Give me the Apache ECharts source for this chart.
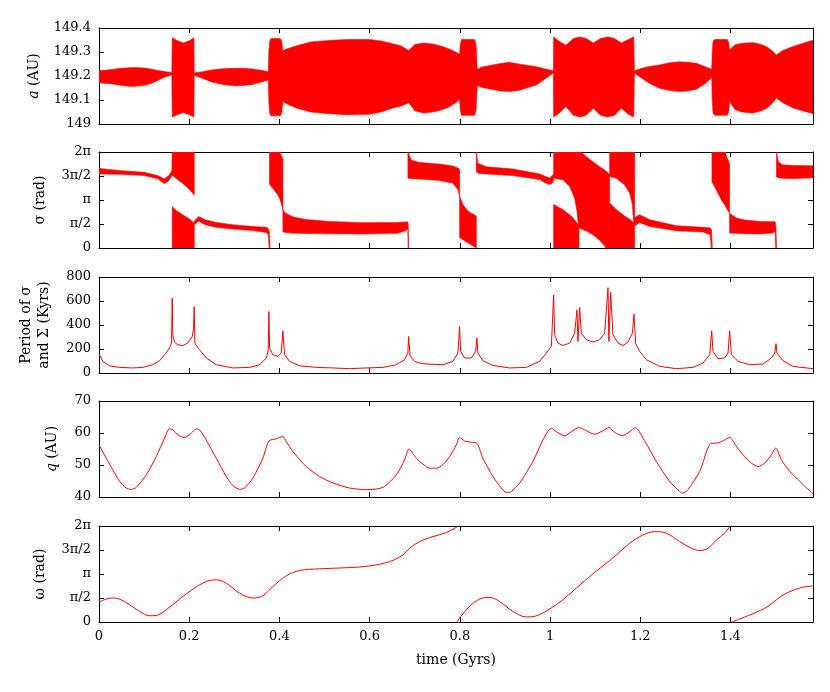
<!DOCTYPE html>
<html><head><meta charset="utf-8">
<script src="https://cdn.jsdelivr.net/npm/echarts@6/dist/echarts.min.js"></script>
<style>html,body{margin:0;padding:0;background:#fff}#c{width:830px;height:692px}</style>
</head><body><div id="c"></div>
<script>
// ---------- DATA (time in Gyrs) ----------
const timeTicks = [0, 0.2, 0.4, 0.6, 0.8, 1.0, 1.2, 1.4];
const aTicks = [149, 149.1, 149.2, 149.3, 149.4];
const periodTicks = [0, 200, 400, 600, 800];
const qTicks = [40, 50, 60, 70];
const angleTicks = [0, Math.PI / 2, Math.PI, 3 * Math.PI / 2, 2 * Math.PI];
const angleTickLabels = ['0', 'π/2', 'π', '3π/2', '2π'];

// semi-major axis envelope: [t, lower, upper] (AU)
const aEnvelope = [
[0,149.172,149.222],[0.03,149.167,149.227],[0.045,149.162,149.231],[0.065,149.157,149.234],[0.08,149.157,149.235],[0.10,149.161,149.233],[0.115,149.169,149.229],
[0.13,149.181,149.223],[0.145,149.195,149.219],[0.1615,149.205,149.214],
[0.1623,149.029,149.359],[0.175,149.040,149.346],[0.187,149.048,149.338],[0.199,149.040,149.346],[0.2105,149.029,149.359],
[0.2111,149.203,149.213],[0.23,149.190,149.218],[0.25,149.175,149.225],[0.275,149.165,149.230],[0.30,149.159,149.232],[0.32,149.160,149.232],
[0.34,149.165,149.229],[0.36,149.175,149.224],[0.3755,149.183,149.218],
[0.3766,149.09,149.30],[0.3785,149.045,149.345],[0.381,149.034,149.356],[0.402,149.034,149.356],[0.405,149.045,149.345],[0.4076,149.094,149.305],
[0.415,149.085,149.312],[0.43,149.073,149.321],[0.44,149.065,149.327],[0.47,149.050,149.342],[0.51,149.043,149.348],[0.55,149.039,149.352],[0.60,149.041,149.352],
[0.625,149.050,149.346],[0.65,149.066,149.335],[0.67,149.075,149.325],[0.687,149.089,149.306],
[0.70,149.055,149.331],[0.72,149.046,149.338],[0.74,149.050,149.333],[0.76,149.059,149.324],[0.775,149.070,149.314],[0.79,149.087,149.301],[0.7995,149.101,149.291],
[0.801,149.06,149.33],[0.8035,149.036,149.352],[0.833,149.036,149.352],[0.836,149.06,149.33],[0.8385,149.159,149.228],
[0.85,149.152,149.238],[0.87,149.145,149.245],[0.89,149.138,149.252],[0.91,149.135,149.257],[0.93,149.140,149.250],[0.97,149.163,149.239],[0.99,149.190,149.229],[1.0075,149.212,149.222],
[1.008,149.029,149.363],[1.02,149.045,149.345],[1.035,149.073,149.328],[1.052,149.036,149.356],[1.066,149.029,149.363],[1.080,149.036,149.356],
[1.096,149.066,149.338],[1.112,149.036,149.356],[1.128,149.029,149.363],[1.143,149.036,149.356],[1.158,149.066,149.338],[1.174,149.040,149.352],[1.1855,149.029,149.363],
[1.187,149.213,149.222],[1.20,149.195,149.230],[1.22,149.17,149.24],[1.243,149.149,149.246],[1.265,149.140,149.255],[1.287,149.135,149.259],[1.305,149.138,149.257],
[1.3245,149.145,149.253],[1.345,149.170,149.238],[1.3585,149.195,149.228],
[1.3595,149.1,149.3],[1.3615,149.045,149.345],[1.365,149.036,149.352],[1.393,149.036,149.352],[1.396,149.05,149.34],[1.398,149.094,149.308],
[1.41,149.06,149.33],[1.425,149.050,149.336],[1.449,149.046,149.339],[1.465,149.053,149.333],[1.48,149.065,149.322],[1.492,149.085,149.306],[1.502,149.108,149.287],
[1.515,149.09,149.305],[1.54,149.066,149.324],[1.583,149.043,149.349]
];

// resonant angle sigma bands: [t, lower, upper] (rad)
const sigmaBandA = [[0,4.85,5.21],[0.05,4.82,5.06],[0.10,4.74,4.95],[0.13,4.53,4.74],[0.145,4.21,4.53],[0.155,4.42,4.74],[0.1615,4.75,5.06],
[0.1623,4.76,6.2832],[0.1712,4.55,6.2832],[0.1859,4.22,6.2832],[0.2007,3.83,6.2832],[0.2111,3.47,6.2832]];
const sigmaBandB = [[0.1623,0,2.71],[0.1712,0,2.45],[0.1859,0,2.17],[0.2007,0,1.89],[0.2111,0,1.63],[0.2112,1.50,1.75],[0.2207,1.76,2.06],
[0.2356,1.52,1.85],[0.2599,1.35,1.67],[0.2968,1.24,1.52],[0.3411,1.15,1.41],[0.3708,1.02,1.35],[0.3752,0.87,1.28],[0.3775,0,1.1],[0.379,0,0.3]];
const sigmaBandC = [[0.3781,4.16,6.2832],[0.3855,3.90,6.2832],[0.3966,3.47,6.2832],[0.4003,3.25,6.2832],[0.404,2.93,6.06],[0.4077,2.49,5.84],
[0.4078,1.05,2.49],[0.414,1.02,2.28],[0.4295,0.98,2.04],[0.458,0.95,1.87],[0.511,0.93,1.74],[0.585,0.92,1.66],[0.659,0.96,1.67],
[0.6665,1.0,1.68],[0.681,1.15,1.70],[0.6845,1.3,1.72],[0.6855,0,1.5],[0.6865,0,0.2]];
const sigmaBandD = [[0.6849,4.57,6.2832],[0.6924,4.55,5.75],[0.7108,4.52,5.60],[0.7552,4.42,5.49],[0.7848,4.24,5.36],[0.7959,3.81,5.22],[0.7995,3.38,5.17],
[0.7996,0.68,3.38],[0.8069,0.54,2.84],[0.818,0.34,2.41],[0.8365,0,2.09]];
const sigmaBandE = [[0.8365,5.0,6.2832],[0.8402,4.89,5.54],[0.8587,4.85,5.32],[0.9178,4.74,5.17],[0.9769,4.48,4.85],[0.990,4.25,4.68],[0.999,4.15,4.58],[1.004,4.22,4.72],[1.008,4.40,4.85]];
const sigmaBandF = [[1.008,4.57,6.2832],[1.0286,4.46,6.2832],[1.0435,4.03,6.2832],[1.0546,3.27,6.2832],[1.0597,2.41,6.2832],[1.0627,1.54,6.2832],
[1.0641,1.33,6.2832],[1.0694,1.25,6.2832],[1.0805,1.11,5.97],[1.0952,0.86,5.65],[1.11,0.51,5.32],[1.1211,0.14,5.10],[1.1233,0,5.05],[1.1322,0,4.83]];
const sigmaBandG = [[1.008,0,2.84],[1.0286,0,2.51],[1.0472,0,2.09],[1.0627,0,1.54],[1.0641,0,1.5]];
const sigmaBandH = [[1.1322,4.68,6.2832],[1.147,4.57,6.2832],[1.1654,4.13,6.2832],[1.1765,3.60,6.2832],[1.1825,2.84,6.2832],[1.1854,1.65,6.2832],[1.1876,1.5,6.2832]];
const sigmaBandI = [[1.1322,0,2.95],[1.147,0,2.51],[1.1654,0,2.09],[1.1803,0,1.80],[1.1854,0,1.65],[1.1876,0,1.5]];
const sigmaBandJ = [[1.1876,1.44,2.0],[1.1987,1.67,2.17],[1.2209,1.41,1.85],[1.28,1.13,1.46],[1.339,1.05,1.35],[1.355,0.87,1.31],[1.358,0,1.2],[1.3595,0,0.3]];
const sigmaBandK = [[1.359,4.33,6.2832],[1.3688,3.79,6.2832],[1.38,3.14,6.2832],[1.389,2.75,6.2832],[1.391,2.60,6.0],[1.398,2.28,5.52],
[1.3981,0.98,2.28],[1.413,0.96,1.96],[1.428,0.94,1.85],[1.465,0.92,1.74],[1.494,0.98,1.72],[1.499,1.1,1.72],[1.5005,0,1.5],[1.502,0,0.3]];
const sigmaBandL = [[1.502,4.65,6.2832],[1.506,4.60,5.65],[1.515,4.56,5.45],[1.54,4.55,5.40],[1.583,4.59,5.38]];

// period of sigma and Sigma (Kyrs)
const periodData = [[0,160],[0.001,152],[0.0084,97],[0.023,60],[0.045,47],[0.075,42],[0.097,47],[0.119,69],[0.134,102],[0.149,166],[0.158,221],[0.1608,249],[0.1623,623],[0.1637,318],
[0.1674,257],[0.1748,235],[0.1859,229],[0.1969,249],[0.2067,304],[0.2096,374],[0.2111,553],[0.2125,249],[0.2229,194],[0.2378,125],[0.26,69],[0.2968,42],[0.3338,47],
[0.356,69],[0.371,125],[0.3752,194],[0.3766,512],[0.3781,208],[0.3855,152],[0.3966,138],[0.404,166],[0.4077,351],[0.4114,152],[0.4225,97],[0.4447,60],[0.4817,47],
[0.5185,42],[0.5556,36],[0.5926,42],[0.6294,47],[0.6591,69],[0.6775,111],[0.6849,166],[0.6864,304],[0.6901,138],[0.6997,97],[0.7108,83],[0.7257,75],[0.7625,69],
[0.7847,97],[0.7957,166],[0.7995,387],[0.8017,180],[0.8106,125],[0.8255,125],[0.835,180],[0.8379,291],[0.84,166],[0.8512,102],[0.8734,63],[0.9104,42],[0.9474,47],
[0.9769,97],[0.9918,166],[1.0029,221],[1.008,650],[1.0102,318],[1.0175,249],[1.0286,229],[1.0435,249],[1.0546,332],[1.0597,526],[1.0619,263],[1.0657,545],[1.0694,332],
[1.0805,277],[1.0952,258],[1.11,277],[1.1211,332],[1.1285,711],[1.1305,263],[1.1344,673],[1.1395,318],[1.1506,249],[1.1617,229],[1.1728,258],[1.1825,332],[1.1861,490],
[1.1898,244],[1.1987,180],[1.2135,111],[1.2431,55],[1.28,36],[1.3169,47],[1.3391,83],[1.354,152],[1.3584,351],[1.3613,180],[1.3724,118],[1.3872,125],[1.3946,166],
[1.3983,351],[1.402,152],[1.4168,97],[1.4427,69],[1.4722,75],[1.4908,125],[1.4982,166],[1.501,244],[1.5032,166],[1.5166,102],[1.5387,55],[1.583,36]];

// perihelion distance q (AU)
const qData = [[0,56.3],[0.016,52.1],[0.0306,48.5],[0.0455,44.9],[0.0603,42.8],[0.0714,42.4],[0.0825,43.0],[0.1047,46.9],[0.1269,52.6],[0.1453,58.4],[0.1564,61.3],
[0.1637,61.0],[0.1748,59.4],[0.1896,58.6],[0.2045,59.9],[0.2155,61.3],[0.2229,61.0],[0.2378,57.8],[0.26,52.1],[0.2821,46.4],[0.2968,43.6],[0.3116,42.4],[0.3227,42.8],
[0.3411,45.9],[0.3633,52.1],[0.3766,57.5],[0.3929,58.2],[0.4077,58.9],[0.4151,57.3],[0.4299,54.2],[0.4595,49.5],[0.489,46.4],[0.5185,44.4],[0.5556,42.8],[0.5926,42.3],
[0.6294,43.0],[0.6591,46.9],[0.6775,51.6],[0.6871,55.0],[0.7035,52.1],[0.7181,50.3],[0.733,49.0],[0.7478,49.0],[0.7625,50.1],[0.7773,52.6],[0.7922,56.3],[0.7995,58.6],
[0.8106,57.5],[0.8255,57.1],[0.8379,56.8],[0.8512,52.1],[0.8734,46.4],[0.892,42.8],[0.9031,41.4],[0.9142,41.7],[0.9326,44.4],[0.9621,51.1],[0.9843,57.8],[1.0029,61.5],
[1.014,60.4],[1.0324,59.1],[1.0472,60.4],[1.0641,61.7],[1.0805,60.7],[1.0989,59.6],[1.1173,60.7],[1.1307,61.7],[1.1433,60.2],[1.1604,59.2],[1.1765,60.4],[1.1892,61.7],
[1.2061,58.4],[1.2357,51.1],[1.2652,44.9],[1.2874,41.7],[1.2948,41.2],[1.3058,42.3],[1.3318,48.0],[1.3577,56.8],[1.3688,56.8],[1.38,57.3],[1.3983,58.6],[1.4132,55.8],
[1.4278,53.2],[1.4465,50.6],[1.4611,49.5],[1.476,50.6],[1.4908,53.2],[1.5003,55.3],[1.513,51.6],[1.5314,48.0],[1.5536,44.9],[1.583,40.9]];

// argument of perihelion omega (rad), three wrapped pieces
const omegaSeg1 = [[0,1.30],[0.016,1.50],[0.0306,1.57],[0.0455,1.50],[0.0677,1.13],[0.09,0.69],[0.1121,0.41],[0.1269,0.43],[0.1491,0.80],[0.1786,1.50],[0.2082,2.15],
[0.2378,2.65],[0.26,2.76],[0.2821,2.54],[0.3116,1.89],[0.3411,1.57],[0.3633,1.72],[0.3855,2.32],[0.415,3.02],[0.4447,3.37],[0.489,3.48],[0.5556,3.56],[0.5999,3.67],
[0.6443,3.95],[0.6738,4.39],[0.6886,4.83],[0.7108,5.26],[0.7403,5.59],[0.77,5.85],[0.7922,6.20],[0.7955,6.2832]];
const omegaSeg2 = [[0.7935,0],[0.7995,0.26],[0.8217,1.02],[0.8439,1.50],[0.866,1.61],[0.8882,1.34],[0.9177,0.69],[0.9474,0.33],[0.9658,0.37],[0.9991,0.85],[1.0286,1.46],
[1.0583,2.22],[1.0878,2.98],[1.1173,3.67],[1.147,4.39],[1.1765,5.15],[1.206,5.70],[1.232,5.91],[1.258,5.81],[1.2874,5.26],[1.3134,4.83],[1.3318,4.67],[1.3503,4.83],
[1.3688,5.37],[1.3872,5.81],[1.3983,6.24],[1.4005,6.2832]];
const omegaSeg3 = [[1.404,0],[1.4205,0.20],[1.45,0.54],[1.4833,1.02],[1.502,1.46],[1.5243,1.89],[1.5536,2.22],[1.583,2.37]];

// ---------- CHART ----------
const RED = '#ff0000';
const FONT = 'DejaVu Serif';
const X_MAX = 1.583;
const tops = [28, 152, 277, 401, 526];
const H = 96;

const grids = tops.map(t => ({ left: 99, right: 17, top: t, height: H }));

const axLine = { show: true, onZero: false, lineStyle: { color: '#000', width: 1 } };
const lbl = { color: '#000', fontFamily: FONT, fontSize: 13 };

const xAxes = [];
const yAxes = [];
const yConf = [
  { min: 149, max: 149.4, ticks: aTicks, name: '{i|a} (AU)', gap: 49, fmt: v => String(+v.toFixed(1)) },
  { min: 0, max: 2 * Math.PI, ticks: angleTicks, name: 'σ (rad)', gap: 50, fmt: v => angleTickLabels[Math.round(v / (Math.PI / 2))] },
  { min: 0, max: 800, ticks: periodTicks, name: 'Period of σ\nand Σ (Kyrs)', gap: 46, fmt: v => String(v) },
  { min: 40, max: 70, ticks: qTicks, name: '{i|q} (AU)', gap: 38, fmt: v => String(v) },
  { min: 0, max: 2 * Math.PI, ticks: angleTicks, name: 'ω (rad)', gap: 50, fmt: v => angleTickLabels[Math.round(v / (Math.PI / 2))] }
];

for (let i = 0; i < 5; i++) {
  const last = i === 4;
  xAxes.push({
    type: 'value', gridIndex: i, position: 'bottom', min: 0, max: X_MAX,
    axisLine: axLine,
    axisTick: { show: true, inside: true, length: 5, customValues: timeTicks, lineStyle: { color: '#000' } },
    axisLabel: Object.assign({ show: last, customValues: timeTicks, margin: 8 }, lbl),
    splitLine: { show: false },
    name: last ? 'time (Gyrs)' : '', nameLocation: 'middle', nameGap: 31,
    nameTextStyle: { color: '#000', fontFamily: FONT, fontSize: 14 }
  });
  xAxes.push({
    type: 'value', gridIndex: i, position: 'top', min: 0, max: X_MAX,
    axisLine: axLine,
    axisTick: { show: true, inside: true, length: 5, customValues: timeTicks, lineStyle: { color: '#000' } },
    axisLabel: { show: false }, splitLine: { show: false }
  });
  const c = yConf[i];
  yAxes.push({
    type: 'value', gridIndex: i, position: 'left', min: c.min, max: c.max,
    axisLine: axLine,
    axisTick: { show: true, inside: true, length: 5, customValues: c.ticks, lineStyle: { color: '#000' } },
    axisLabel: Object.assign({ show: true, customValues: c.ticks, margin: 8, formatter: c.fmt }, lbl),
    splitLine: { show: false },
    name: c.name, nameLocation: 'middle', nameGap: c.gap, nameRotate: 90,
    nameTextStyle: { color: '#000', fontFamily: FONT, fontSize: 14, lineHeight: 18,
      rich: { i: { fontStyle: 'italic', fontFamily: FONT, fontSize: 14, color: '#000' } } }
  });
  yAxes.push({
    type: 'value', gridIndex: i, position: 'right', min: c.min, max: c.max,
    axisLine: axLine,
    axisTick: { show: true, inside: true, length: 5, customValues: c.ticks, lineStyle: { color: '#000' } },
    axisLabel: { show: false }, splitLine: { show: false }
  });
}

function bandRenderer(band) {
  return function (params, api) {
    if (params.dataIndex !== 0) return null;
    const up = [], lo = [];
    for (let k = 0; k < band.length; k++) {
      up.push(api.coord([band[k][0], band[k][2]]));
      lo.push(api.coord([band[k][0], band[k][1]]));
    }
    return { type: 'polygon', shape: { points: up.concat(lo.reverse()) },
      style: { fill: RED, stroke: RED, lineWidth: 0.6 } };
  };
}
function bandSeries(band, panel) {
  return { type: 'custom', xAxisIndex: 2 * panel, yAxisIndex: 2 * panel, clip: true, silent: true,
    data: band, encode: { x: 0, y: [1, 2] }, renderItem: bandRenderer(band) };
}
function lineSeries(data, panel, smooth) {
  return { type: 'line', xAxisIndex: 2 * panel, yAxisIndex: 2 * panel, data: data, showSymbol: false, symbol: 'none',
    smooth: smooth || false,
    clip: true, silent: true, lineStyle: { color: RED, width: 1 } };
}

const series = [
  bandSeries(aEnvelope, 0),
  bandSeries(sigmaBandA, 1), bandSeries(sigmaBandB, 1), bandSeries(sigmaBandC, 1), bandSeries(sigmaBandD, 1),
  bandSeries(sigmaBandE, 1), bandSeries(sigmaBandF, 1), bandSeries(sigmaBandG, 1), bandSeries(sigmaBandH, 1),
  bandSeries(sigmaBandI, 1), bandSeries(sigmaBandJ, 1), bandSeries(sigmaBandK, 1), bandSeries(sigmaBandL, 1),
  lineSeries(periodData, 2, false),
  lineSeries(qData, 3, 0.25),
  lineSeries(omegaSeg1, 4, 0.35), lineSeries(omegaSeg2, 4, 0.35), lineSeries(omegaSeg3, 4, 0.35)
];

const chart = echarts.init(document.getElementById('c'), null, { renderer: 'canvas' });
chart.setOption({
  animation: false,
  backgroundColor: '#fff',
  textStyle: { fontFamily: FONT },
  grid: grids,
  xAxis: xAxes,
  yAxis: yAxes,
  series: series
});
</script></body></html>
